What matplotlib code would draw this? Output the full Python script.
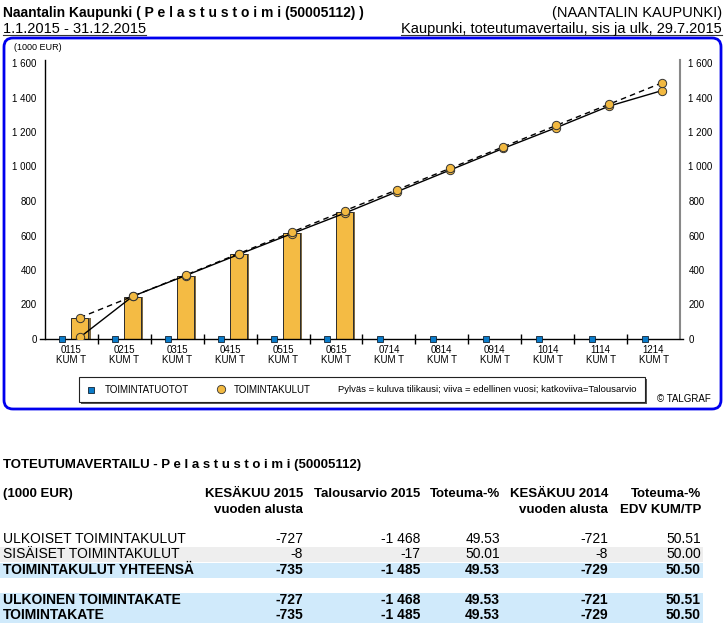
import numpy as np
import matplotlib
matplotlib.use('Agg')
import matplotlib.pyplot as plt
from matplotlib.patches import FancyBboxPatch, Rectangle

plt.rcParams['font.family'] = ['Liberation Sans', 'DejaVu Sans']

# data
kuukaudet = ['0115', '0215', '0315', '0415', '0515', '0615',
             '0714', '0814', '0914', '1014', '1114', '1214']
tuotot = [0, 0, 0, 0, 0, 0, 0, 0, 0, 0, 0, 0]
kulut_2015 = [122, 245, 368, 490, 613, 735]
kulut_2014 = [10, 248, 368, 490, 610, 729, 855, 980, 1105, 1225, 1350, 1440]
talousarvio = [124, 248, 371, 495, 619, 743, 866, 990, 1114, 1238, 1361, 1485]
y_ticks = [0, 200, 400, 600, 800, 1000, 1200, 1400, 1600]

taulu_sarakkeet = [('KESÄKUU 2015', 'vuoden alusta'), ('Talousarvio 2015', ''),
                   ('Toteuma-%', ''), ('KESÄKUU 2014', 'vuoden alusta'),
                   ('Toteuma-%', 'EDV KUM/TP')]
taulu_rivit = ['ULKOISET TOIMINTAKULUT', 'SISÄISET TOIMINTAKULUT',
               'TOIMINTAKULUT YHTEENSÄ', 'ULKOINEN TOIMINTAKATE', 'TOIMINTAKATE']
taulu_arvot = [['-727', '-1 468', '49.53', '-721', '50.51'],
               ['-8', '-17', '50.01', '-8', '50.00'],
               ['-735', '-1 485', '49.53', '-729', '50.50'],
               ['-727', '-1 468', '49.53', '-721', '50.51'],
               ['-735', '-1 485', '49.53', '-729', '50.50']]

W, H = 728, 624
fig = plt.figure(figsize=(W / 100, H / 100), dpi=100)

# background axes in pixel coords
bg = fig.add_axes([0, 0, 1, 1])
bg.set_xlim(0, W)
bg.set_ylim(H, 0)
bg.axis('off')

# header
bg.text(3, 17, 'Naantalin Kaupunki ( P e l a s t u s t o i m i (50005112) )',
        fontsize=10, fontweight='bold', va='baseline')
t1 = bg.text(3, 33, '1.1.2015 - 31.12.2015', fontsize=10.5, va='baseline')
bg.text(722, 17, '(NAANTALIN KAUPUNKI)', fontsize=10.5, va='baseline', ha='right')
t2 = bg.text(722, 33, 'Kaupunki, toteutumavertailu, sis ja ulk, 29.7.2015',
             fontsize=10.5, va='baseline', ha='right')

# blue frame
bg.add_patch(FancyBboxPatch((4, 38), 717, 371, boxstyle='round,pad=0,rounding_size=9',
                            fc='none', ec='#0000ee', lw=2))
bg.text(14, 47, '(1000 EUR)', fontsize=6.5, va='center')

# legend box
bg.add_patch(Rectangle((81, 379), 566, 25, fc='#555555', ec='none'))
bg.add_patch(Rectangle((79, 377), 566, 25, fc='white', ec='#222222', lw=0.8))
bg.plot([91], [389.5], marker='s', ms=5, mfc='#0a7bc9', mec='#123', mew=0.6)
bg.text(105, 390, 'TOIMINTATUOTOT', fontsize=7, va='center')
bg.plot([221], [389], marker='o', ms=6, mfc='#f2b941', mec='#333', mew=0.6)
bg.text(234, 390, 'TOIMINTAKULUT', fontsize=7, va='center')
bg.text(338, 390, 'Pylväs = kuluva tilikausi; viiva = edellinen vuosi; katkoviiva=Talousarvio',
        fontsize=6.8, va='center')
bg.text(657, 399, '© TALGRAF', fontsize=7, va='center')

# chart
y0, ppu = 339, 276 / 1600
ymax = 1620
ax = fig.add_axes([45 / W, (H - y0) / H, 635 / W, ymax * ppu / H])
ax.patch.set_alpha(0)
x = np.arange(len(kuukaudet))
off = 0.16
xb = x[:len(kulut_2015)] + off
ax.bar(xb + 0.04, kulut_2015, width=0.32, color='#7d6a45', zorder=2)
ax.bar(xb, kulut_2015, width=0.32, color='#f4bb44', edgecolor='#2b2b2b', lw=0.7, zorder=3)
ax.plot(x + off, kulut_2014, color='black', lw=1, zorder=4)
ax.plot(x + off, talousarvio, color='black', lw=1, ls=(0, (4, 3)), zorder=4)
ax.plot(x + off, kulut_2014, ls='none', marker='o', ms=6, mfc='#f2b941', mec='#333', mew=0.7, zorder=5)
ax.plot(x + off, talousarvio, ls='none', marker='o', ms=6, mfc='#f2b941', mec='#333', mew=0.7, zorder=5)
ax.plot(x - 0.17, tuotot, ls='none', marker='s', ms=5, mfc='#0a7bc9', mec='#123', mew=0.6,
        zorder=6, clip_on=False)

ax.set_xlim(-0.5, len(kuukaudet) - 0.5)
ax.set_ylim(0, ymax)
ax.plot([-0.6, 11.56], [0, 0], color='black', lw=1, clip_on=False, zorder=4)
for s in ['top', 'bottom']:
    ax.spines[s].set_visible(False)
ax.spines['left'].set_linewidth(1)
ax.spines['right'].set_color('#888888')
ax.spines['right'].set_linewidth(1.5)

ax.set_xticks(x)
ax.set_xticklabels([k + '\nKUM T' for k in kuukaudet], fontsize=7, linespacing=1.0)
ax.set_xticks(np.arange(0.5, 11, 1), minor=True)
ax.tick_params(axis='x', which='major', length=0, pad=4)
ax.tick_params(axis='x', which='minor', direction='inout', length=7, width=1)

ylabels = [f'{v:,}'.replace(',', ' ') for v in y_ticks]
ax.set_yticks(y_ticks)
ax.set_yticklabels(ylabels, fontsize=7)
ax.tick_params(axis='y', length=0, pad=6, labelright=True)

# table
bg.text(3, 468, 'TOTEUTUMAVERTAILU - P e l a s t u s t o i m i (50005112)',
        fontsize=9.5, fontweight='bold', va='baseline')
bg.text(3, 497, '(1000 EUR)', fontsize=9.5, fontweight='bold', va='baseline')
col_x = [303, 420, 500, 608, 701]
for cx, (h1, h2) in zip(col_x, taulu_sarakkeet):
    bg.text(cx, 497, h1, fontsize=9.5, fontweight='bold', va='baseline', ha='right')
    if h2:
        bg.text(cx, 513, h2, fontsize=9.5, fontweight='bold', va='baseline', ha='right')

row_y = [543, 558, 574, 604, 619]
row_bg = [None, '#eeeeee', '#d0eafb', '#d0eafb', '#d0eafb']
row_bold = [False, False, True, True, True]
for ry, nimi, arvot, c, b in zip(row_y, taulu_rivit, taulu_arvot, row_bg, row_bold):
    if c:
        bg.add_patch(Rectangle((0, ry - 11.5), 703, 15.5, fc=c, ec='none', zorder=0))
    w = 'bold' if b else 'normal'
    bg.text(3, ry, nimi, fontsize=10, fontweight=w, va='baseline')
    for cx, v in zip(col_x, arvot):
        bg.text(cx, ry, v, fontsize=10, fontweight=w, va='baseline', ha='right')

# underline the second header line
fig.canvas.draw()
inv = bg.transData.inverted()
for t in (t1, t2):
    bb = t.get_window_extent()
    (xa, _), (xb2, _) = inv.transform([[bb.x0, 0], [bb.x1, 0]])
    bg.plot([xa, xb2], [34.5, 34.5], color='#333333', lw=0.8)

fig.savefig('out.png', dpi=100)
